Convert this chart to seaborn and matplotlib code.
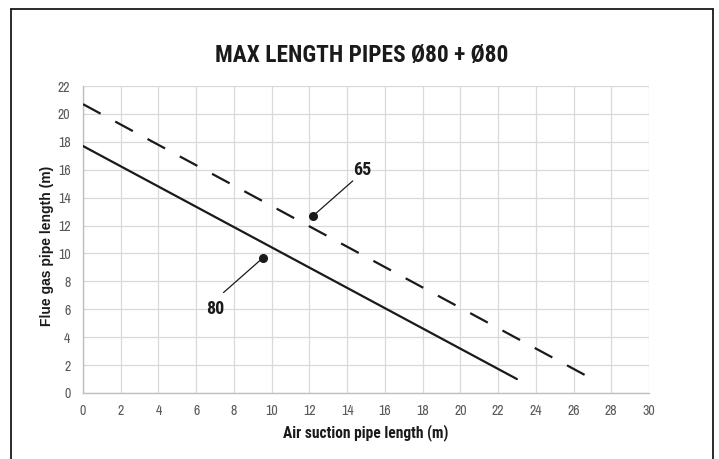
import matplotlib
matplotlib.use("Agg")
import matplotlib.pyplot as plt
from matplotlib.lines import Line2D
import seaborn as sns
import pandas as pd

# Pipe length limits: flue gas length vs. air suction length
x_80 = [0, 23]
y_80 = [17.7, 1.0]
x_65 = [0, 27]
y_65 = [20.7, 1.0]

# Callout markers and labels for each curve
labels = ["65", "80"]
dot_x = [12.2, 9.55]
dot_y = [12.7, 9.7]
leader_x = [14.3, 7.45]
leader_y = [15.2, 7.2]
label_x = [14.8, 7.0]
label_y = [16.0, 6.0]

x_ticks = list(range(0, 31, 2))
y_ticks = list(range(0, 23, 2))

title = "MAX LENGTH PIPES Ø80 + Ø80"
xlabel = "Air suction pipe length (m)"
ylabel = "Flue gas pipe length (m)"

sns.set_theme(style="white")
narrow = ["Archivo Narrow", "Roboto Condensed", "Liberation Sans", "DejaVu Sans"]
narrow_bold = ["Roboto Condensed", "PT Sans Narrow", "Liberation Sans", "DejaVu Sans"]
plt.rcParams["font.family"] = ["Liberation Sans", "DejaVu Sans"]

df = pd.concat([
    pd.DataFrame({"air": x_80, "flue": y_80, "pipe": "80"}),
    pd.DataFrame({"air": x_65, "flue": y_65, "pipe": "65"}),
])

fig = plt.figure(figsize=(7.19, 4.59), dpi=100)
ax = fig.add_axes([0.1154, 0.1438, 0.7872, 0.6688])

sns.lineplot(data=df, x="air", y="flue", hue="pipe", style="pipe",
             palette={"80": "#1a1a1a", "65": "#1a1a1a"},
             dashes={"80": "", "65": (9, 7.5)},
             linewidth=1.6, legend=False, ax=ax, zorder=3)

ax.set_xlim(0, 30)
ax.set_ylim(0, 22)
ax.set_xticks(x_ticks)
ax.set_yticks(y_ticks)
ax.grid(True, color="#d9d9d9", linewidth=0.9, zorder=0)
ax.set_axisbelow(True)
for side in ["top", "right"]:
    ax.spines[side].set_visible(False)
for side in ["left", "bottom"]:
    ax.spines[side].set_color("#bfbfbf")
    ax.spines[side].set_linewidth(1.0)
ax.tick_params(axis="both", length=0, labelsize=10, labelcolor="#595959")
ax.tick_params(axis="x", pad=8)
ax.tick_params(axis="y", pad=9)
for t in ax.get_xticklabels() + ax.get_yticklabels():
    t.set_family(narrow)

ax.set_xlabel(xlabel, fontsize=11.2, fontweight="bold", family=narrow_bold,
              color="#1a1a1a", labelpad=4)
ax.set_ylabel(ylabel, fontsize=10, fontweight="bold", color="#1a1a1a",
              labelpad=3)
ax.yaxis.label.set_y(0.48)

for lab, dx, dy, lx, ly, tx, ty in zip(labels, dot_x, dot_y, leader_x, leader_y,
                                       label_x, label_y):
    ax.plot([dx, lx], [dy, ly], color="#1a1a1a", linewidth=0.9, zorder=4)
    ax.plot([dx], [dy], "o", color="#1a1a1a", markersize=5.5, zorder=5)
    ax.text(tx, ty, lab, ha="center", va="center", fontsize=13,
            fontweight="bold", family=narrow_bold, color="#1a1a1a", zorder=5)

fig.text(0.503, 0.878, title, ha="center", va="center", fontsize=16.8,
         fontweight="bold", family=narrow_bold, color="#1a1a1a")

# Frame around the chart (open at the bottom)
W, H = 719, 459
fx0, fx1, fy1 = 10.5 / W, 712.5 / W, 1 - 8.5 / H
for xs, ys in [([fx0, fx0], [0, fy1]), ([fx0, fx1], [fy1, fy1]), ([fx1, fx1], [fy1, 0])]:
    fig.add_artist(Line2D(xs, ys, transform=fig.transFigure, color="#1a1a1a",
                          linewidth=1.3))

fig.savefig("out.png", dpi=100)
